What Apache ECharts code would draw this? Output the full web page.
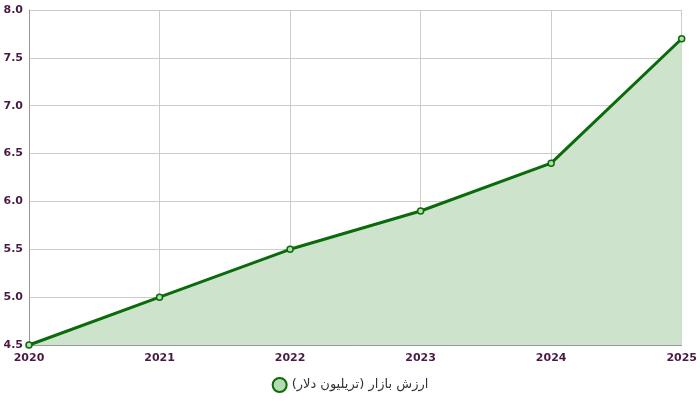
<!DOCTYPE html>
<html>
<head>
<meta charset="UTF-8">
<script src="https://cdn.jsdelivr.net/npm/echarts@6/dist/echarts.min.js"></script>
<style>
  * { margin: 0; padding: 0; }
  #chart { width: 700px; height: 404px; background: #fff; }
</style>
</head>
<body>
<div id="chart"></div>
<script>
  // داده‌ها
  var years = ['2020', '2021', '2022', '2023', '2024', '2025'];
  var marketValue = [4.5, 5.0, 5.5, 5.9, 6.4, 7.7];
  var seriesName = 'ارزش بازار (تریلیون دلار)';

  var myChart = echarts.init(document.getElementById('chart'));
  var labelStyle = { color: '#4a1942', fontWeight: 'bold', fontSize: 11, fontFamily: 'DejaVu Sans' };

  myChart.setOption({
    animation: false,
    grid: { left: 29, right: 16, top: 10, bottom: 59, containLabel: false },
    legend: {
      bottom: 6,
      icon: 'circle',
      itemWidth: 14,
      itemHeight: 14,
      textStyle: { color: '#333', fontSize: 13, fontFamily: 'DejaVu Sans' },
      data: [seriesName]
    },
    xAxis: {
      type: 'category',
      data: years,
      boundaryGap: false,
      axisLine: { lineStyle: { color: '#999' } },
      axisTick: { show: false },
      axisLabel: labelStyle,
      splitLine: { show: true, lineStyle: { color: '#ccc' } }
    },
    yAxis: {
      type: 'value',
      min: 4.5,
      max: 8,
      interval: 0.5,
      axisLine: { show: true, lineStyle: { color: '#999' } },
      axisLabel: Object.assign({ formatter: function (v) { return v.toFixed(1); }, margin: 6 }, labelStyle),
      splitLine: { lineStyle: { color: '#ccc' } }
    },
    series: [{
      name: seriesName,
      type: 'line',
      data: marketValue,
      symbol: 'circle',
      symbolSize: 6,
      lineStyle: { color: '#0a6b0a', width: 3 },
      itemStyle: { color: '#b5dcb0', borderColor: '#0a6b0a', borderWidth: 1.5 },
      areaStyle: { color: '#cde3cc', opacity: 1 }
    }]
  });
</script>
</body>
</html>
